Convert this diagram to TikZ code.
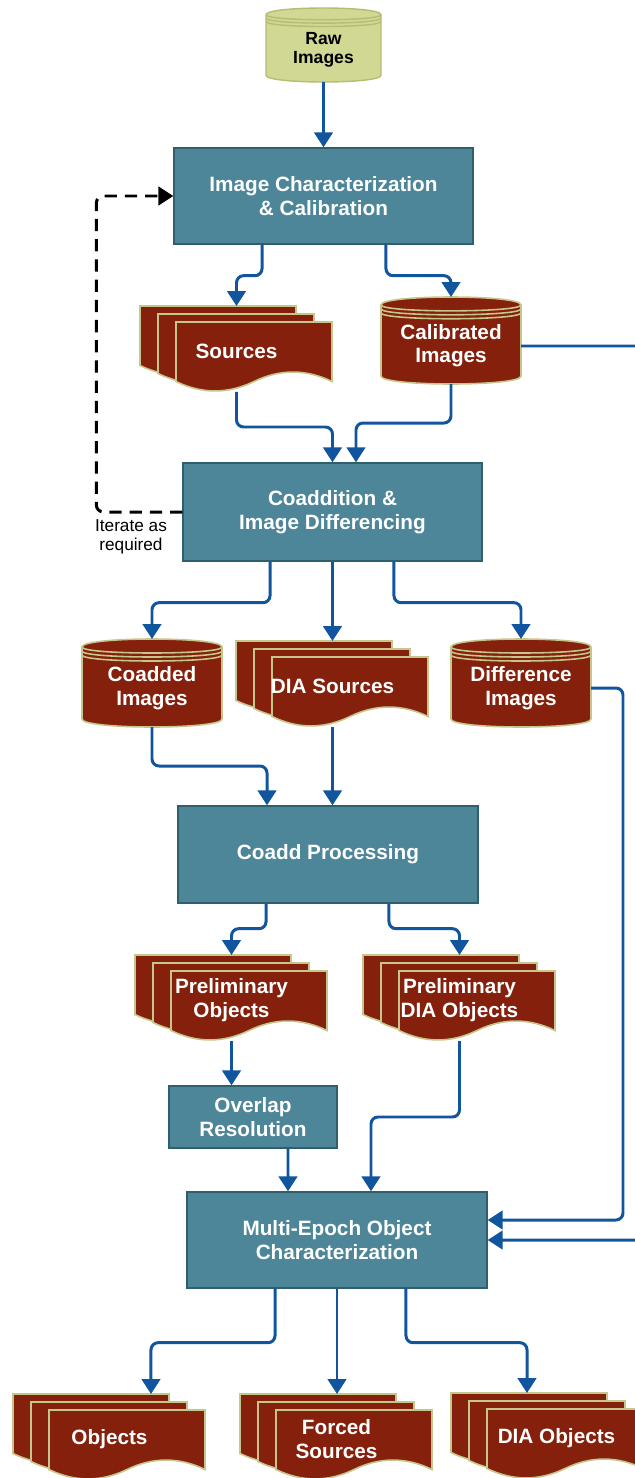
\documentclass[tikz,border=0pt]{standalone}
\usepackage{fontspec}
\setmainfont{Liberation Sans}
\usetikzlibrary{arrows.meta}
\definecolor{procfill}{HTML}{4C8698}
\definecolor{procline}{HTML}{2F5E6C}
\definecolor{docfill}{HTML}{85200C}
\definecolor{docline}{HTML}{C4C68A}
\definecolor{rawfill}{HTML}{D0D894}
\definecolor{rawline}{HTML}{B5BC74}
\definecolor{flowblue}{HTML}{11559E}
\newcommand{\boxfont}{\bfseries\fontsize{11.8}{13.4}\selectfont}
\newcommand{\rawfont}{\bfseries\fontsize{10}{11}\selectfont}
\newcommand{\notefont}{\fontsize{9.8}{10.8}\selectfont}
\tikzstyle{proc} = [rectangle, draw=procline, fill=procfill, line width=0.8pt, align=center, text=white, font=\boxfont, inner sep=0pt]
\tikzstyle{hull} = [rectangle, inner sep=0pt, outer sep=0pt]
\tikzstyle{rawdb} = [draw=rawline, fill=rawfill, line width=0.8pt]
\tikzstyle{browndb} = [draw=docline, fill=docfill, line width=0.9pt]
\tikzstyle{rawtxt} = [align=center, text=black, font=\rawfont, inner sep=0pt]
\tikzstyle{browntxt} = [align=center, text=white, font=\boxfont, inner sep=0pt]
\tikzstyle{flow} = [draw=flowblue, line width=1.7pt, rounded corners=4pt, -{Triangle[width=10.5pt,length=8.5pt]}]
\tikzstyle{loopback} = [draw=black, line width=1.7pt, rounded corners=4pt, dash pattern=on 7pt off 4.5pt, -{Triangle[width=10.5pt,length=8.5pt]}]
\tikzstyle{note} = [align=center, text=black, font=\notefont, inner sep=0pt]
% datastore: name, left, top, width, height, kind, text
\newcommand{\datastore}[7]{%
  \pgfmathsetmacro{\dsh}{#5/11}
  \draw[#6db] (#2,#3+\dsh) .. controls (#2,#3-\dsh/3) and (#2+#4,#3-\dsh/3) .. (#2+#4,#3+\dsh)
    -- (#2+#4,#3+#5-\dsh) .. controls (#2+#4,#3+#5+\dsh/3) and (#2,#3+#5+\dsh/3) .. (#2,#3+#5-\dsh) -- cycle;
  \foreach \k in {0,0.5,1}
    \draw[#6db, fill=none] (#2,#3+\dsh+\k*\dsh) .. controls (#2,#3+2*\dsh+\k*\dsh) and (#2+#4,#3+2*\dsh+\k*\dsh) .. (#2+#4,#3+\dsh+\k*\dsh);
  \node[hull, minimum width=#4*0.02cm, minimum height=#5*0.02cm] (#1) at (#2+#4/2,#3+#5/2) {};
  \node[#6txt] (#1-t) at (#2+#4/2,#3+#5/2+5) {#7};
}
% multi document: name, left, top, text shift, text
\newcommand{\multidoc}[5]{%
  \foreach \i in {0,1,2}{
    \pgfmathsetmacro{\shx}{#2+18*\i}
    \pgfmathsetmacro{\shy}{#3+8*\i}
    \draw[browndb] (\shx,\shy) -- (\shx+156,\shy) -- (\shx+156,\shy+59.5)
      .. controls (\shx+130,\shy+46.9) and (\shx+104,\shy+46.9) .. (\shx+78,\shy+59.5)
      .. controls (\shx+52,\shy+72.1) and (\shx+26,\shy+72.1) .. (\shx,\shy+59.5) -- cycle;
  }
  \node[hull, minimum width=3.86cm, minimum height=1.72cm] (#1) at (#2+96.5,#3+43) {};
  \node[browntxt] (#1-t) at (#2+96.5+#4,#3+45) {#5};
}

\begin{document}
\begin{tikzpicture}[x=0.02cm, y=-0.02cm]
\useasboundingbox (0,0) rectangle (635,1478);

% stores
\datastore{raw}{266}{8}{115}{74}{raw}{Raw\\Images}
\datastore{calib}{381}{297}{140}{87}{brown}{Calibrated\\Images}
\datastore{coadded}{82}{639}{140}{88}{brown}{Coadded\\Images}
\datastore{diffimg}{451}{639}{140}{88}{brown}{Difference\\Images}

% document stacks
\multidoc{sources}{140}{306}{0}{Sources}
\multidoc{diasrc}{236}{641}{0}{DIA Sources}
\multidoc{prelobj}{135}{955}{0}{Preliminary\\Objects}
\multidoc{preldia}{363}{955}{0}{Preliminary\\DIA Objects}
\multidoc{objects}{13}{1394}{0}{Objects}
\multidoc{forced}{240}{1394}{0}{Forced\\Sources}
\multidoc{diaobj}{451}{1393}{9}{DIA Objects}

% processing steps
\node[proc, minimum width=5.98cm, minimum height=1.92cm] (imgchar) at (323.5,196) {Image Characterization\\\& Calibration};
\node[proc, minimum width=5.98cm, minimum height=1.96cm] (coadd) at (332.5,512) {Coaddition \&\\Image Differencing};
\node[proc, minimum width=6cm, minimum height=1.94cm] (coaddproc) at (328,854.5) {Coadd Processing};
\node[proc, minimum width=3.36cm, minimum height=1.24cm] (overlap) at (253,1117) {Overlap\\Resolution};
\node[proc, minimum width=6cm, minimum height=1.92cm] (multiepoch) at (337,1240) {Multi-Epoch Object\\Characterization};
\node[note] (iterate) at (131,537) {Iterate as\\required};

% flow
\draw[flow] (raw.south) -- (imgchar.north);
\draw[flow] ([xshift=-1.23cm]imgchar.south) -- ++(0,31) -| (sources.north);
\draw[flow] ([xshift=1.25cm]imgchar.south) -- ++(0,31) -| (calib.north);
\draw[flow] (sources.south) -- ++(0,35) -| (coadd.north);
\draw[flow] (calib.south) -- ++(0,39) -| ([xshift=0.47cm]coadd.north);
\draw[loopback] (coadd.west) -- ++(-86,0) |- (imgchar.west);
\draw[flow] ([xshift=-1.25cm]coadd.south) -- ++(0,41) -| (coadded.north);
\draw[flow] (coadd.south) -- (diasrc.north);
\draw[flow] ([xshift=1.23cm]coadd.south) -- ++(0,41) -| (diffimg.north);
\draw[flow] (coadded.south) -- ++(0,39) -| ([xshift=-1.22cm]coaddproc.north);
\draw[flow] (diasrc.south) -- ([xshift=0.09cm]coaddproc.north);
\draw[flow] ([xshift=-1.24cm]coaddproc.south) -- ++(0,25) -| (prelobj.north);
\draw[flow] ([xshift=1.22cm]coaddproc.south) -- ++(0,25) -| (preldia.north);
\draw[flow] (prelobj.south) -- (prelobj.south |- overlap.north);
\draw[flow] ([xshift=0.7cm]overlap.south) -- ([xshift=-0.98cm]multiepoch.north);
\draw[flow] (preldia.south) -- ++(0,76) -| ([xshift=0.68cm]multiepoch.north);
\draw[flow] ([yshift=-0.1cm]diffimg.east) -- ++(32,0) |- ([yshift=0.4cm]multiepoch.east);
\draw[flow] ([yshift=-0.11cm]calib.east) -- ++(140,0) |- (multiepoch.east);
\draw[flow] ([xshift=-1.24cm]multiepoch.south) -- ++(0,54) -| ([xshift=0.83cm]objects.north);
\draw[flow] (multiepoch.south) -- (multiepoch.south |- forced.north);
\draw[flow] ([xshift=1.38cm]multiepoch.south) -- ++(0,54) -| ([xshift=-0.41cm]diaobj.north);
\end{tikzpicture}
\end{document}
